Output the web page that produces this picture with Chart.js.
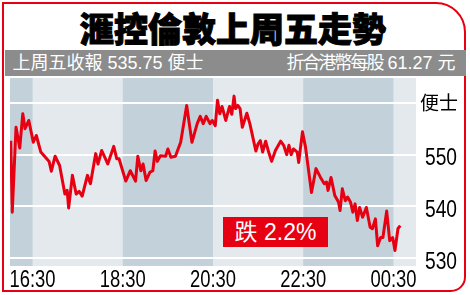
<!DOCTYPE html>
<html>
<head>
<meta charset="utf-8">
<script src="https://cdn.jsdelivr.net/npm/chart.js@4"></script>
<style>
    body { margin: 0; background: #fff; }
    #wrap { position: relative; width: 470px; height: 295px; overflow: hidden; font-family: "Liberation Sans", "Noto Sans CJK TC", sans-serif; }
    #frame { position: absolute; left: 2px; top: 2px; width: 460px; height: 286px; border: 2.5px solid #e60012; border-radius: 0 30px 15px 0; }
    #title { position: absolute; left: 0; top: 10px; width: 466px; text-align: center; font: 900 34px/36px "Noto Sans CJK TC", sans-serif; color: #000; -webkit-text-stroke: 1px #000; }
    #bar { position: absolute; left: 4.5px; top: 50px; width: 461px; height: 26px; background: #8c8c8c; color: #fff; font-size: 18px; line-height: 26px; }
    #bar .l { position: absolute; left: 8px; top: 0; white-space: nowrap; }
    #bar .r { position: absolute; right: 10px; top: 0; white-space: nowrap; }
    #bar .r .cjk { letter-spacing: -2px; }
    #chart { position: absolute; left: 0; top: 0; }
    #tag { position: absolute; left: 223px; top: 217px; width: 105px; height: 30px; background: #e60012; color: #fff; font-size: 23px; line-height: 30px; text-align: center; }
</style>
</head>
<body>
<div id="wrap">
    <div id="frame"></div>
    <div id="title">滙控倫敦上周五走勢</div>
    <div id="bar">
        <span class="l">上周五收報 535.75 便士</span>
        <span class="r"><span class="cjk">折合港幣每股</span> 61.27 元</span>
    </div>
    <canvas id="chart" width="470" height="295"></canvas>
    <div id="tag">跌 2.2%</div>
</div>
<script>
    // 分鐘數 (由 16:00 起計)
    const minutesFrom1600 = [
        1, 3, 8, 13, 17, 20, 25, 31, 35, 41,
        52, 55, 60, 66, 73, 76, 78, 83, 88, 92,
        96, 103, 107, 114, 117, 122, 130, 138, 142, 145,
        154, 160, 167, 170, 174, 177, 181, 186, 190, 193,
        196, 200, 207, 210, 214, 220, 227, 235, 242, 249,
        253, 257, 261, 266, 269, 273, 276, 279, 282, 287,
        292, 295, 298, 300, 303, 306, 309, 315, 319, 327,
        330, 333, 336, 340, 344, 348, 353, 360, 364, 368,
        371, 374, 377, 382, 384, 389, 393, 401, 407, 413,
        418, 421, 423, 427, 432, 437, 439, 442, 446, 449,
        453, 456, 459, 462, 465, 469, 474, 479, 482, 486,
        489, 493, 496, 501, 505, 509, 512, 516, 519
    ];
    // 股價 (便士)
    const prices = [
        552.7, 538.9, 555.3, 551.3, 557.9, 555.0, 556.6, 552.4, 553.7, 550.5,
        548.7, 546.8, 549.7, 547.9, 542.4, 543.1, 539.7, 546.0, 542.4, 542.9,
        542.0, 546.0, 544.4, 550.2, 548.2, 550.8, 548.2, 551.6, 549.2, 549.2,
        544.9, 546.9, 544.9, 549.7, 546.9, 548.2, 545.0, 546.6, 546.9, 550.7,
        548.7, 549.8, 549.7, 551.1, 549.5, 549.7, 552.4, 559.5, 552.4, 556.0,
        557.4, 556.0, 557.4, 556.0, 556.6, 555.6, 560.5, 557.9, 559.3, 556.6,
        559.3, 557.8, 561.3, 558.9, 559.5, 558.9, 555.3, 558.0, 556.0, 550.7,
        552.1, 552.7, 550.5, 552.6, 550.5, 548.7, 550.8, 552.6, 551.8, 550.0,
        551.8, 550.0, 551.1, 550.5, 548.5, 554.4, 551.5, 542.7, 547.3, 545.6,
        544.4, 544.7, 543.1, 545.6, 542.1, 540.8, 539.2, 543.4, 541.1, 541.8,
        540.8, 538.9, 540.5, 537.3, 539.8, 537.9, 539.8, 536.0, 535.7, 537.6,
        532.4, 534.0, 534.0, 539.1, 533.4, 534.0, 531.5, 535.7, 536.3
    ];
    const tickMinutes = [30, 150, 270, 390, 510];
    const tickLabels = ['16:30', '18:30', '20:30', '22:30', '00:30'];
    const yTicks = [530, 540, 550, 560];
    const unitLabel = '便士';
    // 深色時段
    const shadeRanges = [[0, 30], [150, 270], [390, 510]];

    const bandPlugin = {
        id: 'bands',
        beforeDraw(chart) {
            const { ctx, chartArea: a, scales: { x } } = chart;
            ctx.save();
            ctx.fillStyle = '#e4e9ed';
            ctx.fillRect(a.left, a.top, a.width, a.height);
            ctx.fillStyle = '#c3d2da';
            shadeRanges.forEach(([s, e]) => {
                const x0 = x.getPixelForValue(s);
                const x1 = x.getPixelForValue(e);
                ctx.fillRect(x0, a.top, x1 - x0, a.height);
            });
            ctx.restore();
        }
    };

    // 窄身數字標籤 (原圖字體較窄)
    function narrowText(ctx, text, x, y, size, align) {
        ctx.save();
        ctx.font = size + 'px "Liberation Sans", Arial, sans-serif';
        ctx.textAlign = align;
        ctx.textBaseline = 'alphabetic';
        ctx.translate(x, y);
        ctx.scale(0.8, 1);
        ctx.fillText(text, 0, 0);
        ctx.restore();
    }

    const labelPlugin = {
        id: 'labels',
        afterDraw(chart) {
            const { ctx, chartArea: a, scales: { x, y } } = chart;
            ctx.fillStyle = '#000';
            tickMinutes.forEach((m, i) => {
                narrowText(ctx, tickLabels[i], x.getPixelForValue(m), a.bottom + 21, 23, 'center');
            });
            yTicks.forEach(v => {
                const py = y.getPixelForValue(v);
                if (v === 560) {
                    ctx.save();
                    ctx.font = '19px "Noto Sans CJK TC", sans-serif';
                    ctx.textAlign = 'left';
                    ctx.textBaseline = 'middle';
                    ctx.fillText(unitLabel, a.right + 4, py);
                    ctx.restore();
                } else {
                    narrowText(ctx, String(v), a.right + 9, py + 10.5, 24, 'left');
                }
            });
        }
    };

    new Chart(document.getElementById('chart'), {
        type: 'line',
        data: {
            datasets: [{
                data: minutesFrom1600.map((m, i) => ({ x: m, y: prices[i] })),
                borderColor: '#e60012',
                borderWidth: 3,
                pointRadius: 0,
                tension: 0,
                borderJoinStyle: 'round'
            }]
        },
        options: {
            responsive: false,
            animation: false,
            layout: { padding: { left: 10, top: 78, right: 4, bottom: 4 } },
            plugins: { legend: { display: false }, tooltip: { enabled: false } },
            scales: {
                x: {
                    type: 'linear',
                    min: 0,
                    max: 540,
                    grid: { display: false, drawTicks: false },
                    border: { display: false },
                    afterBuildTicks: s => { s.ticks = tickMinutes.map(v => ({ value: v })); },
                    afterFit: s => { s.height = 25; },
                    ticks: { display: false }
                },
                y: {
                    position: 'right',
                    min: 528.5,
                    max: 564.8,
                    border: { display: false },
                    grid: { color: '#ffffff', lineWidth: 2, drawTicks: false },
                    afterBuildTicks: s => { s.ticks = yTicks.map(v => ({ value: v })); },
                    afterFit: s => { s.width = 50; },
                    ticks: { display: false }
                }
            }
        },
        plugins: [bandPlugin, labelPlugin]
    });
</script>
</body>
</html>
